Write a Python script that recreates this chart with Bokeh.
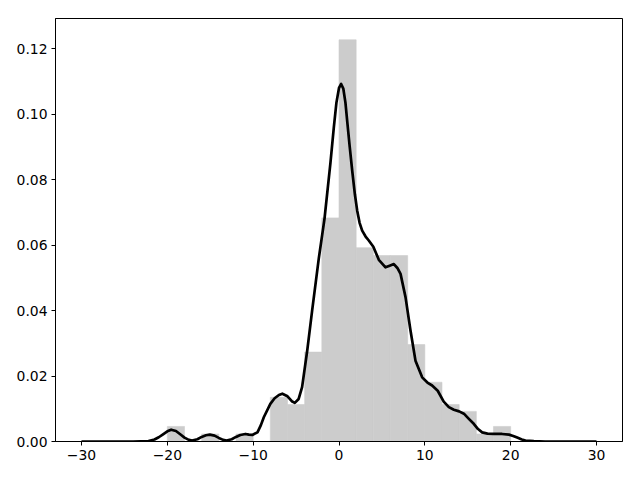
from bokeh.plotting import figure
from bokeh.models import Range1d, FixedTicker, NumeralTickFormatter
from bokeh.embed import file_html
from bokeh.resources import INLINE

# Histogram (density) bins
bin_left = [-20, -18, -16, -14, -12, -10, -8, -6, -4, -2, 0, 2, 4, 6, 8, 10, 12, 14, 16, 18]
bin_right = [-18, -16, -14, -12, -10, -8, -6, -4, -2, 0, 2, 4, 6, 8, 10, 12, 14, 16, 18, 20]
bin_density = [0.0046, 0.0, 0.0023, 0.0, 0.0023, 0.0, 0.0135, 0.0113, 0.0273, 0.0683,
               0.1227, 0.0592, 0.0568, 0.0568, 0.0296, 0.0181, 0.0113, 0.0092, 0.0023, 0.0046]

# KDE curve
kde_x = [-30, -24, -22.2, -21.5, -21, -20.5, -20, -19.55, -19, -18.5, -18, -17.5, -17.1,
         -16.5, -16, -15.5, -15.05, -14.5, -14, -13.5, -13.1, -12.5, -12, -11.5, -10.9,
         -10.5, -10.1, -9.5, -9.1, -8.76, -8, -7.5, -7, -6.6, -6, -5.5, -5.15, -4.7, -4.3,
         -3.7, -3.13, -2.35, -1.69, -1.0, -0.6, -0.3, 0.0, 0.25, 0.5, 0.75, 0.95, 1.25,
         1.54, 1.85, 2.12, 2.4, 2.7,
         3.1, 3.47, 4.0, 4.64, 5.42, 5.9, 6.39, 6.8, 7.17, 7.75, 8.33, 8.91, 9.69, 10.3, 10.85,
         11.5, 12.2, 12.8, 13.38, 14.0, 14.55, 15.1, 15.7, 16.2, 16.68, 17.3, 18.04, 19.0,
         19.8, 20.3, 20.76, 21.3, 21.73, 22.7, 24, 30]
kde_y = [0, 0, 0.0001, 0.0006, 0.0013, 0.0022, 0.0031, 0.0036, 0.0032, 0.0022, 0.0012,
         0.0005, 0.0003, 0.0007, 0.0014, 0.0019, 0.0021, 0.0018, 0.0011, 0.0005, 0.0003,
         0.0007, 0.0014, 0.0020, 0.0023, 0.0021, 0.0020, 0.0028, 0.0050, 0.0074, 0.0115,
         0.0132, 0.0142, 0.0146, 0.0138, 0.0123, 0.0118, 0.0130, 0.0166, 0.0278, 0.0400,
         0.0560, 0.0680, 0.0850, 0.0960, 0.1035, 0.1080, 0.1092, 0.1078, 0.1035, 0.0980,
         0.0900, 0.0827, 0.0755, 0.0705, 0.0668, 0.0644,
         0.0626, 0.0614, 0.0595, 0.0555, 0.0532, 0.0537, 0.0542, 0.0530, 0.0512, 0.0441,
         0.0339, 0.0247, 0.0196, 0.0180, 0.0171, 0.0155, 0.0122, 0.0105, 0.0097, 0.0092,
         0.0085, 0.0070, 0.0054, 0.0038, 0.0028, 0.0024, 0.0023, 0.0023, 0.0021, 0.0017,
         0.0012, 0.0006, 0.0003, 0.0001, 0, 0]

x_ticks = [-30, -20, -10, 0, 10, 20, 30]
y_ticks = [0.0, 0.02, 0.04, 0.06, 0.08, 0.10, 0.12]

FONT = "DejaVu Sans"

p = figure(frame_width=567, frame_height=423, output_backend="svg", toolbar_location=None,
           x_range=Range1d(-33.03, 33.03), y_range=Range1d(0, 0.1292),
           min_border_left=55, min_border_right=10, min_border_top=18, min_border_bottom=31)
p.background_fill_color = "white"
p.border_fill_color = "white"
p.outline_line_color = "black"
p.outline_line_width = 1
p.xgrid.visible = False
p.ygrid.visible = False

p.quad(left=bin_left, right=bin_right, top=bin_density, bottom=0,
       fill_color="#cccccc", line_color="#cccccc", line_width=0.6)
p.line(kde_x, kde_y, line_color="black", line_width=2.7, line_join="round")

for ax in (p.xaxis[0], p.yaxis[0]):
    ax.axis_line_color = "black"
    ax.major_tick_line_color = "black"
    ax.major_tick_in = 0
    ax.major_tick_out = 4
    ax.minor_tick_line_color = None
    ax.major_label_text_font = FONT
    ax.major_label_text_font_size = "13.9px"
    ax.major_label_text_color = "black"
    ax.major_label_standoff = 4

p.xaxis.ticker = FixedTicker(ticks=x_ticks)
p.xaxis.major_label_overrides = {t: (str(t).replace("-", "\u2212")) for t in x_ticks}
p.yaxis.ticker = FixedTicker(ticks=y_ticks)
p.yaxis.formatter = NumeralTickFormatter(format="0.00")

open("out.html", "w").write(file_html(p, INLINE))
